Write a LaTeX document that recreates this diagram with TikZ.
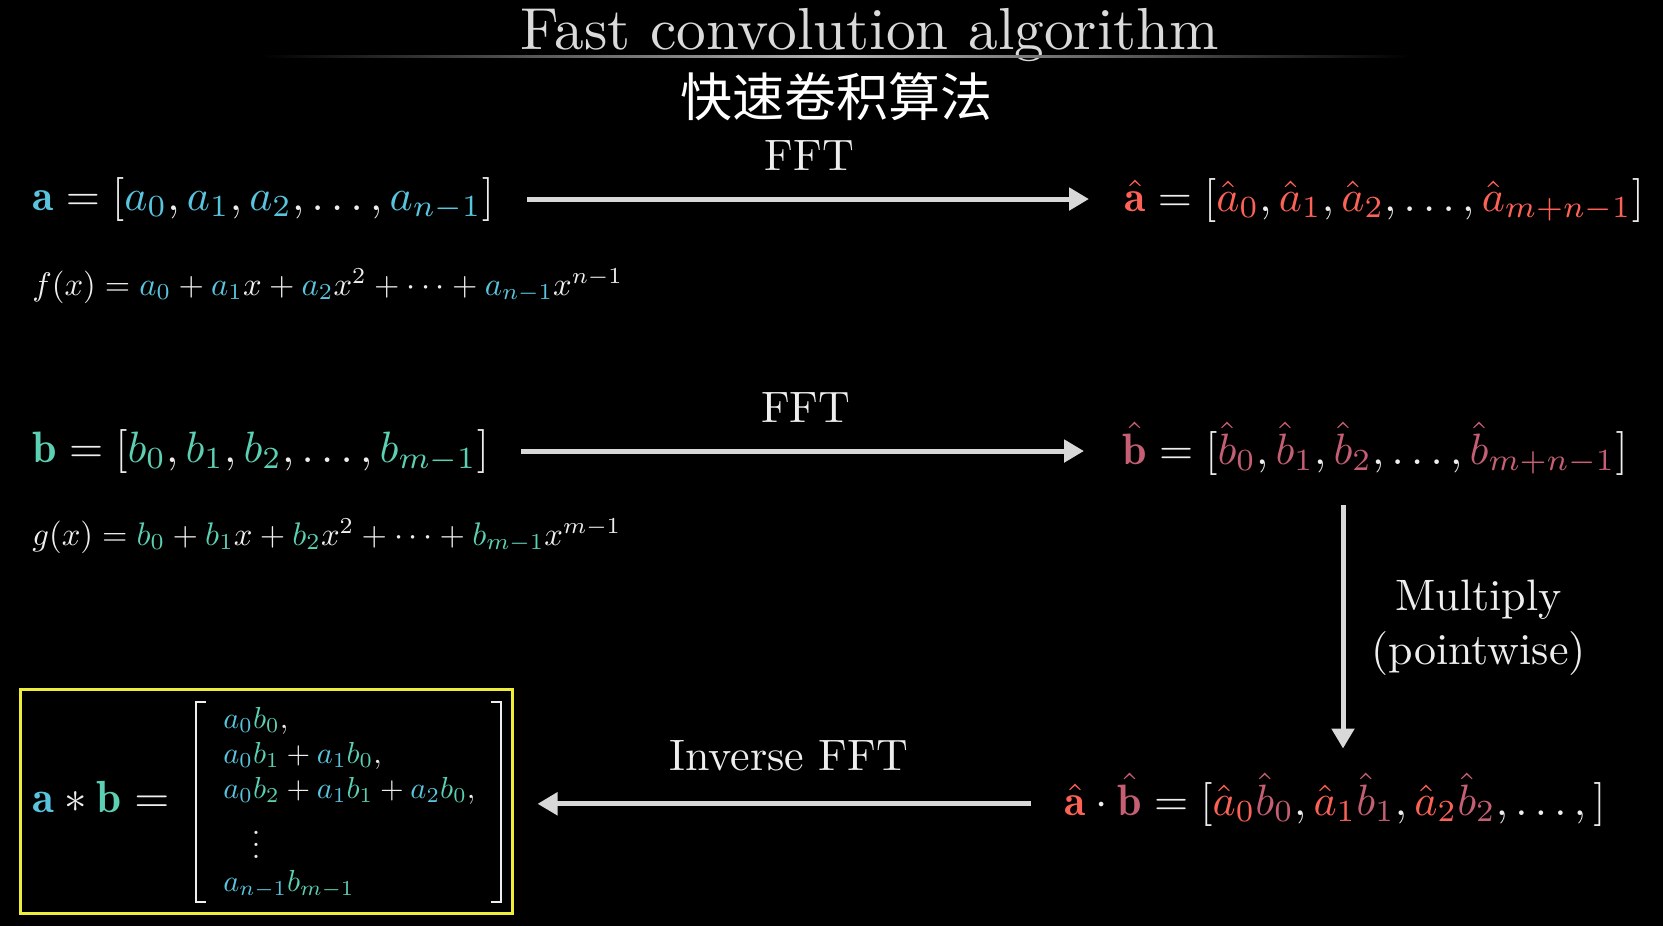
\documentclass[tikz,border=0pt]{standalone}
\usepackage{fontspec}
\usepackage{graphicx}
\newfontfamily\cjkfont{Noto Sans CJK SC}
\usetikzlibrary{arrows.meta}
\definecolor{txt}{HTML}{EEEEEE}
\definecolor{ttl}{HTML}{DADADA}
\definecolor{arr}{HTML}{D8D8D8}
\definecolor{rulec}{HTML}{B8B8B8}
\definecolor{ca}{HTML}{58C4DD}
\definecolor{cb}{HTML}{5CD0B3}
\definecolor{cah}{HTML}{FC6255}
\definecolor{cbh}{HTML}{C55F73}
\definecolor{ybox}{HTML}{EEEE3A}
\newcommand\Ca[1]{{\color{ca}#1}}
\newcommand\Cb[1]{{\color{cb}#1}}
\newcommand\Cah[1]{{\color{cah}#1}}
\newcommand\Cbh[1]{{\color{cbh}#1}}
\newcommand\Eq[1]{\scalebox{2.195}{$#1$}}
\newcommand\Po[1]{\scalebox{1.632}{$#1$}}
\newcommand\Mr[1]{\scalebox{1.52}{$#1$}}
\newcommand\Lb[1]{\scalebox{2.2}{#1}}
\tikzset{
  eqn/.style={anchor=base west, inner sep=0pt, text=txt},
  lbl/.style={inner sep=0pt, text=txt},
  bigarrow/.style={draw=arr, line width=2.5pt, -{Triangle[length=10pt,width=11pt]}},
  brk/.style={draw=txt, line width=1.3pt},
}
\begin{document}
\begin{tikzpicture}[x=0.5pt,y=-0.5pt]
\fill[black] (0,0) rectangle (1663,926);
\useasboundingbox (0,0) rectangle (1663,926);

% title
\node[text=ttl, inner sep=0pt, anchor=base] (title) at (870,49) {\scalebox{2.965}{Fast convolution algorithm}};
\shade[left color=black, right color=rulec] (260,55) rectangle (836,57.5);
\shade[left color=rulec, right color=black] (836,55) rectangle (1411,57.5);
\node[text=white, inner sep=0pt, font=\cjkfont\fontsize{26}{30}\selectfont] (cn) at (836,97) {快速卷积算法};

% left column
\node[eqn] (aeq) at (32,210) {\Eq{\mathbf{\Ca a} = [\Ca{a_0}, \Ca{a_1}, \Ca{a_2}, \ldots, \Ca{a_{n-1}}]}};
\node[eqn] (fx) at (32,295) {\Po{f(x) = \Ca{a_0} + \Ca{a_1}x + \Ca{a_2}x^2 + \cdots + \Ca{a_{n-1}}x^{n-1}}};
\node[eqn] (beq) at (32,462) {\Eq{\mathbf{\Cb b} = [\Cb{b_0}, \Cb{b_1}, \Cb{b_2}, \ldots, \Cb{b_{m-1}}]}};
\node[eqn] (gx) at (32,545) {\Po{g(x) = \Cb{b_0} + \Cb{b_1}x + \Cb{b_2}x^2 + \cdots + \Cb{b_{m-1}}x^{m-1}}};

% right column
\node[eqn] (ahat) at (1124,211) {\Eq{\Cah{\hat{\mathbf a}} = [\Cah{\hat a_0}, \Cah{\hat a_1}, \Cah{\hat a_2}, \ldots, \Cah{\hat a_{m+n-1}}]}};
\node[eqn] (bhat) at (1122,464) {\Eq{\Cbh{\hat{\mathbf b}} = [\Cbh{\hat b_0}, \Cbh{\hat b_1}, \Cbh{\hat b_2}, \ldots, \Cbh{\hat b_{m+n-1}}]}};
\node[eqn] (abhat) at (1064,815) {\Eq{\Cah{\hat{\mathbf a}}\cdot\Cbh{\hat{\mathbf b}} = [\Cah{\hat a_0}\Cbh{\hat b_0}, \Cah{\hat a_1}\Cbh{\hat b_1}, \Cah{\hat a_2}\Cbh{\hat b_2}, \ldots,]}};

% result box
\node[draw=ybox, line width=1.5pt, minimum width=246pt, minimum height=112pt, inner sep=0pt] (box) at (266,801) {};
\node[eqn] (conv) at (32,812) {\scalebox{2.25}{$\mathbf{\Ca a} * \mathbf{\Cb b} =$}};
\node[eqn] (r1) at (223,728) {\Mr{\Ca{a_0}\Cb{b_0},}};
\node[eqn] (r2) at (223,763) {\Mr{\Ca{a_0}\Cb{b_1} + \Ca{a_1}\Cb{b_0},}};
\node[eqn] (r3) at (223,798) {\Mr{\Ca{a_0}\Cb{b_2} + \Ca{a_1}\Cb{b_1} + \Ca{a_2}\Cb{b_0},}};
\node[eqn, anchor=center] (r4) at (256,836) {\Mr{\vdots}};
\node[eqn] (r5) at (223,891) {\Mr{\Ca{a_{n-1}}\Cb{b_{m-1}}}};
\draw[brk] (206,702) -- (196,702) -- (196,902) -- (206,902);
\draw[brk] (491,702) -- (501,702) -- (501,902) -- (491,902);

% connectors
\draw[bigarrow, shorten <=16.5pt, shorten >=17.5pt] (aeq.east) -- (aeq.east -| ahat.west)
  node[lbl, midway, above=13pt] (fft1) {\Lb{FFT}};
\draw[bigarrow, shorten <=16pt, shorten >=19pt] (beq.east) -- (beq.east -| bhat.west)
  node[lbl, midway, above=13pt] (fft2) {\Lb{FFT}};
\coordinate (vx) at (1343,0);
\draw[bigarrow, shorten <=15pt, shorten >=12pt] (bhat.south -| vx) -- (abhat.north -| vx)
  node[lbl, midway, right=13pt, yshift=-1.5pt] (mul) {\Lb{\begin{tabular}{@{}c@{}}Multiply\\[0.4pt](pointwise)\end{tabular}}};
\coordinate (abaxis) at ([yshift=5.6pt]abhat.base west);
\draw[bigarrow, shorten <=16.5pt, shorten >=12pt] (abaxis) -- (abaxis -| box.east)
  node[lbl, midway, above=15pt] (ifft) {\Lb{Inverse FFT}};
\end{tikzpicture}
\end{document}
